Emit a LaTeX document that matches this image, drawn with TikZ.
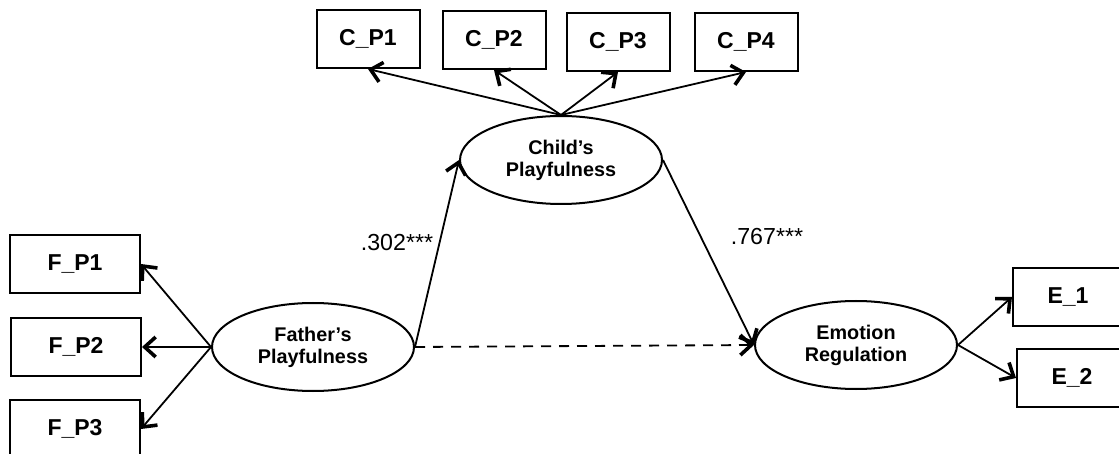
\documentclass[tikz,border=0pt]{standalone}
\usepackage{fontspec}
\setmainfont{Liberation Sans}
\usetikzlibrary{positioning, arrows.meta, shapes.geometric}

\begin{document}
\begin{tikzpicture}[
  x=0.5pt, y=-0.5pt,
  obs/.style={draw, line width=1pt, minimum width=65pt, minimum height=29pt,
              font=\bfseries\fontsize{11.5}{13}\selectfont},
  cobs/.style={obs, minimum width=51.5pt},
  eobs/.style={obs, minimum width=55pt},
  latent/.style={draw, ellipse, line width=1pt, minimum width=101pt, minimum height=44pt,
                 inner sep=0pt, align=center, font=\bfseries\fontsize{9.9}{11}\selectfont},
  path/.style={line width=0.9pt, -{Straight Barb[length=5.5pt, width=10pt, line width=1.8pt]}},
  coef/.style={font=\fontsize{11.6}{13}\selectfont},
]
  \useasboundingbox (0,0) rectangle (1119,454);

  % latent variables
  \node[latent] (fp) at (313,347) {Father’s\\Playfulness};
  \node[latent] (cp) at (561,160) {Child’s\\Playfulness};
  \node[latent] (er) at (856,345) {Emotion\\Regulation};

  % indicators
  \node[obs] (fp1) at (75,264) {F\_P1};
  \node[obs] (fp2) at (76,347) {F\_P2};
  \node[obs] (fp3) at (75,429) {F\_P3};

  \node[cobs] (cp1) at (368,39) {C\_P1};
  \node[cobs] (cp2) at (494,40) {C\_P2};
  \node[cobs] (cp3) at (618,42) {C\_P3};
  \node[cobs] (cp4) at (746,42) {C\_P4};

  \node[eobs] (e1) at (1068,297) {E\_1};
  \node[eobs] (e2) at (1072,378) {E\_2};

  % loadings
  \draw[path] (fp.west) -- (fp1.east);
  \draw[path] (fp.west) -- (fp2.east);
  \draw[path] (fp.west) -- (fp3.east);
  \draw[path] (cp.north) -- (cp1.south);
  \draw[path] (cp.north) -- (cp2.south);
  \draw[path] (cp.north) -- (cp3.south);
  \draw[path] (cp.north) -- (cp4.south);
  \draw[path] (er.east) -- (e1.west);
  \draw[path] (er.east) -- (e2.west);

  % structural paths
  \draw[path] (fp.east) -- (cp.west);
  \draw[path] (cp.east) -- (er.west);
  \draw[path, dashed, dash pattern=on 5pt off 4pt] (fp.east) -- (er.west);

  \node[coef] (b1) at (397,243) {.302***};
  \node[coef] (b2) at (767,237) {.767***};
\end{tikzpicture}
\end{document}
